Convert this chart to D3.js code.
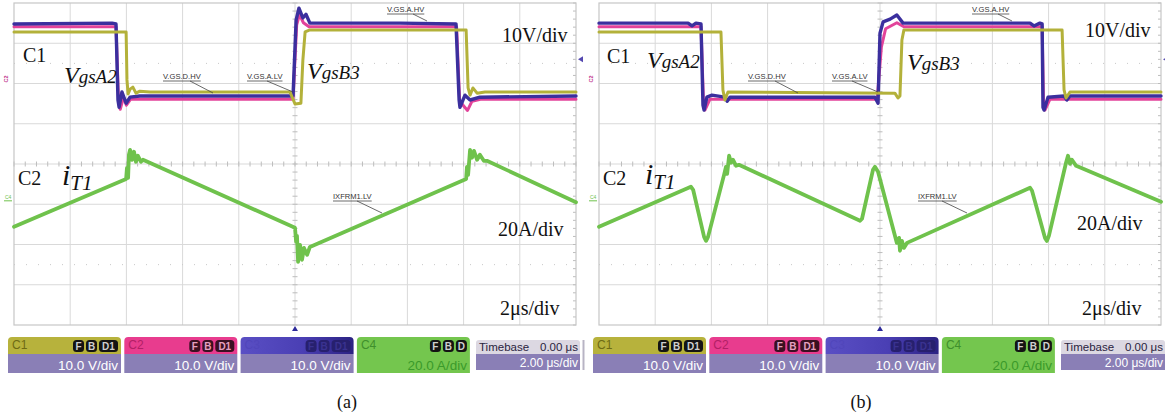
<!DOCTYPE html>
<html>
<head>
<meta charset="utf-8">
<script src="https://cdn.jsdelivr.net/npm/d3@7"></script>
<style>
  body { margin: 0; background: #fff; }
  svg { display: block; }
</style>
</head>
<body>
<svg id="chart" width="1165" height="419"></svg>
<script>
// ---- acquisition settings ----
const timeDomain = [-10, 10];          // µs, 2 µs/div over 10 divisions
const voltsPerDiv = 10;                // C1..C3
const ampsPerDiv = 20;                 // C4
const gateOffsetDiv = 2.11;            // ground marker of the gate channels (divisions above centre)
const currentOffsetDiv = -0.89;        // ground marker of the current channel

// ---- panel (a): gate voltages [t µs, V] ----
const aC1 = [[-10,11.7],[-6.05,11.7],[-6.01,11.7],[-5.98,-0.2],[-5.94,-3.7],[-5.87,-2.5],[-5.77,-2.0],[-5.66,-3.5],[-5.52,-3.0],[-5.16,-3.2],[-0.18,-3.2],[0,-6.2],[0.21,-6.0],[0.28,4.7],[0.36,11.7],[0.53,12.2],[6.09,12.2],[6.16,-2.2],[6.23,-4.0],[6.33,-2.2],[6.48,-3.5],[6.76,-3.2],[10,-3.2]];
const aC2 = [[-10,13.0],[-6.37,13.0],[-6.28,-5.5],[-6.22,-7.5],[-6.1,-4.5],[-6.0,-6.5],[-5.85,-5.0],[-0.07,-5.0],[0.06,13.5],[0.16,16.0],[0.3,14.0],[0.5,13.0],[5.75,13.0],[5.86,-5.5],[6.14,-7.8],[6.3,-5.5],[6.6,-5.0],[10,-5.0]];
const aC3 = [[-10,13.7],[-6.51,13.9],[-6.37,13.7],[-6.30,-5.2],[-6.26,-7.0],[-6.16,-3.2],[-6.01,-6.0],[-5.87,-4.5],[-5.52,-4.2],[-3.38,-4.2],[-0.07,-4.2],[0.04,14.7],[0.14,17.6],[0.28,15.2],[0.39,16.1],[0.53,13.9],[3.74,13.9],[5.73,13.7],[5.84,-5.2],[5.87,-7.0],[6.05,-4.0],[6.23,-5.2],[6.58,-4.5],[10,-4.2]];
// ---- panel (a): transformer current [t µs, A] ----
const aC4 = [[-10,-13.4],[-6.01,10.4],[-5.98,15.9],[-5.94,10.9],[-5.91,22.4],[-5.87,24.8],[-5.8,19.9],[-5.73,23.9],[-5.66,18.9],[-5.59,21.9],[-5.48,18.9],[-5.41,19.9],[0,-13.9],[0.04,-20.9],[0.07,-17.9],[0.11,-30.8],[0.18,-22.4],[0.25,-29.8],[0.32,-23.9],[0.43,-27.3],[0.53,-23.4],[6.09,10.4],[6.12,16.4],[6.16,12.4],[6.23,24.8],[6.3,20.9],[6.37,24.3],[6.48,19.9],[6.58,22.4],[6.72,19.4],[6.83,19.4],[10,-1.2]];

// ---- panel (b): gate voltages [t µs, V] ----
const bC1 = [[-10,11.7],[-5.66,11.7],[-5.59,-2.7],[-5.52,-5.2],[-5.41,-3.2],[0.53,-3.5],[0.64,-4.7],[0.71,-4.2],[0.78,9.7],[0.85,12.2],[6.48,12.2],[6.55,-2.7],[6.62,-4.7],[6.76,-3.2],[10,-3.2]];
const bC2 = [[-10,13.0],[-6.37,13.0],[-6.28,-6.0],[-6.23,-7.7],[-6.05,-5.0],[-0.1,-5.0],[0.05,8.0],[0.2,12.5],[0.6,14.0],[0.85,13.0],[5.77,13.0],[5.82,-6.0],[5.87,-7.7],[6.05,-5.0],[10,-5.0]];
const bC3 = [[-10,13.9],[-6.83,13.9],[-6.69,13.2],[-6.55,13.9],[-6.37,13.7],[-6.3,-6.5],[-6.26,-7.7],[-6.16,-4.5],[-5.98,-4.0],[-5.52,-4.5],[-5.44,-5.5],[-5.34,-4.5],[-0.18,-4.5],[-0.07,-6.0],[0,11.4],[0.11,14.2],[0.36,14.9],[0.6,15.9],[0.82,13.9],[5.34,13.9],[5.48,13.2],[5.69,13.9],[5.77,13.7],[5.8,-7.0],[5.84,-7.7],[5.98,-4.5],[6.55,-4.2],[6.65,-5.2],[6.76,-4.2],[10,-4.2]];
// ---- panel (b): transformer current [t µs, A] ----
const bC4 = [[-10,-13.4],[-6.73,6.5],[-6.65,5.0],[-6.26,-18.4],[-6.19,-20.4],[-6.12,-18.4],[-5.55,12.4],[-5.48,16.4],[-5.44,12.9],[-5.37,21.9],[-5.3,18.4],[-5.23,19.9],[-5.12,16.9],[-5.02,17.4],[-0.71,-10.4],[-0.64,-9.4],[-0.25,14.9],[-0.18,16.4],[-0.07,13.9],[0.6,-21.4],[0.68,-18.9],[0.71,-25.3],[0.78,-20.4],[0.85,-23.9],[0.96,-21.4],[5.34,6.0],[5.41,4.5],[5.87,-18.9],[5.94,-20.4],[6.01,-17.9],[6.62,18.4],[6.69,21.9],[6.76,17.9],[6.83,19.9],[6.98,16.9],[10,-1.0]];

// ---- text ----
const captions = ["(a)", "(b)"];
const scaleNotes = ["10V/div", "20A/div", "2μs/div"];
const traceTags = ["V.GS.D.HV", "V.GS.A.LV", "V.GS.A.HV", "IXFRM1.LV"];
const statusChannels = ["C1", "C2", "C3", "C4"];
const statusScales = ["10.0 V/div", "10.0 V/div", "10.0 V/div", "20.0 A/div"];
const statusBadges = [["F","B","D1"], ["F","B","D1"], ["F","B","D1"], ["F","B","D"]];
const timebaseText = ["Timebase", "0.00 μs", "2.00 μs/div"];

// ---- styling ----
const traceColor = { c1: "#b3b13a", c2: "#e2439a", c3: "#3b2f9e", c4: "#6fc24c" };
const serif = "'Liberation Serif', 'Times New Roman', serif";
const sans = "'Liberation Sans', Arial, sans-serif";

const svg = d3.select("#chart");
const defs = svg.append("defs");
const g3 = defs.append("linearGradient").attr("id", "c3grad");
g3.append("stop").attr("offset", "0%").attr("stop-color", "#5a4fc4");
g3.append("stop").attr("offset", "55%").attr("stop-color", "#4a3fb4");
g3.append("stop").attr("offset", "100%").attr("stop-color", "#2b2282");

const plotW = 562, plotTop = 3, plotBottom = 325;

const panels = [
  { x0: 14, caption: captions[0], capX: 347, c1: aC1, c2: aC2, c3: aC3, c4: aC4,
    txt: { c1: [9, 62], vA: [50, 83], vB: [293, 79], v10: [488, 42], c2: [4, 185], iT: [48, 185], a20: [484, 236], us2: [486, 315] } },
  { x0: 599, caption: captions[1], capX: 861, c1: bC1, c2: bC2, c3: bC3, c4: bC4,
    txt: { c1: [8, 63], vA: [48, 68], vB: [308, 70], v10: [486, 37], c2: [4, 185], iT: [46, 184], a20: [478, 230], us2: [483, 315] } }
];

panels.forEach(p => {
  const g = svg.append("g");
  const x = d3.scaleLinear(timeDomain, [p.x0, p.x0 + plotW]);
  const yDiv = d3.scaleLinear([-4, 4], [plotBottom, plotTop]);
  const yV = d3.scaleLinear([(-4 - gateOffsetDiv) * voltsPerDiv, (4 - gateOffsetDiv) * voltsPerDiv], [plotBottom, plotTop]);
  const yI = d3.scaleLinear([(-4 - currentOffsetDiv) * ampsPerDiv, (4 - currentOffsetDiv) * ampsPerDiv], [plotBottom, plotTop]);

  // graticule
  const grid = g.append("g");
  d3.range(-8, 10, 2).forEach(t => {
    grid.append("line").attr("x1", x(t)).attr("x2", x(t)).attr("y1", plotTop).attr("y2", plotBottom)
      .attr("stroke", "#d9d9d9").attr("stroke-width", 1);
  });
  d3.range(-3, 4).forEach(d => {
    grid.append("line").attr("x1", x(-10)).attr("x2", x(10)).attr("y1", yDiv(d)).attr("y2", yDiv(d))
      .attr("stroke", "#d9d9d9").attr("stroke-width", 1);
  });
  [-2.5, 2.5].forEach(d => {
    grid.append("line").attr("x1", x(-10)).attr("x2", x(10)).attr("y1", yDiv(d)).attr("y2", yDiv(d))
      .attr("stroke", "#c8c8c8").attr("stroke-width", 1).attr("stroke-dasharray", "1,11");
  });
  // minor ticks along the centre axes and the right edge
  d3.range(-4, 4.001, 0.2).forEach(d => {
    grid.append("line").attr("x1", x(0) - 2.5).attr("x2", x(0) + 2.5).attr("y1", yDiv(d)).attr("y2", yDiv(d))
      .attr("stroke", "#bdbdbd");
    grid.append("line").attr("x1", x(10) - 3).attr("x2", x(10)).attr("y1", yDiv(d)).attr("y2", yDiv(d))
      .attr("stroke", "#bdbdbd");
  });
  d3.range(-10, 10.001, 0.4).forEach(t => {
    grid.append("line").attr("x1", x(t)).attr("x2", x(t)).attr("y1", yDiv(0) - 2.5).attr("y2", yDiv(0) + 2.5)
      .attr("stroke", "#bdbdbd");
  });
  grid.append("rect").attr("x", x(-10)).attr("y", plotTop).attr("width", plotW).attr("height", plotBottom - plotTop)
    .attr("fill", "none").attr("stroke", "#c6c6c6").attr("stroke-width", 1.2);

  // traces
  const lineV = d3.line().x(d => x(d[0])).y(d => yV(d[1])).curve(d3.curveLinear);
  const lineI = d3.line().x(d => x(d[0])).y(d => yI(d[1])).curve(d3.curveLinear);
  const traces = g.append("g").attr("fill", "none").attr("stroke-linejoin", "round").attr("stroke-linecap", "round");
  traces.append("path").attr("d", lineI(p.c4)).attr("stroke", traceColor.c4).attr("stroke-width", 3.8);
  traces.append("path").attr("d", lineV(p.c2)).attr("stroke", traceColor.c2).attr("stroke-width", 3);
  traces.append("path").attr("d", lineV(p.c3)).attr("stroke", traceColor.c3).attr("stroke-width", 3.4);
  traces.append("path").attr("d", lineV(p.c1)).attr("stroke", traceColor.c1).attr("stroke-width", 3);

  // trace tags with leader lines
  const tagPos = [
    { tx: 149, ty: 79, from: [176, 81], to: [199, 93] },
    { tx: 233, ty: 79, from: [253, 81], to: [279, 92] },
    { tx: 373, ty: 12, from: [399, 14], to: [413, 21] },
    { tx: 319, ty: 199, from: [343, 201], to: [368, 213] }
  ];
  traceTags.forEach((t, i) => {
    const tp = tagPos[i];
    const txt = g.append("text").attr("x", p.x0 + tp.tx).attr("y", tp.ty)
      .attr("font-family", sans).attr("font-size", 7.6).attr("fill", "#333").text(t);
    const w = txt.node().getComputedTextLength();
    g.append("line").attr("x1", p.x0 + tp.tx).attr("x2", p.x0 + tp.tx + w).attr("y1", tp.ty + 2).attr("y2", tp.ty + 2)
      .attr("stroke", "#444").attr("stroke-width", 0.8);
    g.append("line").attr("x1", p.x0 + tp.from[0]).attr("y1", tp.from[1]).attr("x2", p.x0 + tp.to[0]).attr("y2", tp.to[1])
      .attr("stroke", "#444").attr("stroke-width", 0.8);
  });

  // edge markers
  g.append("text").attr("transform", `translate(${p.x0 - 6},${yV(0)}) rotate(-90)`)
    .attr("text-anchor", "middle").attr("font-family", sans).attr("font-size", 5.5).attr("font-weight", "bold")
    .attr("fill", "#c23c92").text("C2");
  g.append("text").attr("x", p.x0 - 9).attr("y", yI(0) - 1).attr("font-family", sans).attr("font-size", 5)
    .attr("fill", traceColor.c4).text("C4");
  g.append("line").attr("x1", p.x0 - 10).attr("x2", p.x0 - 2).attr("y1", yI(0) + 1).attr("y2", yI(0) + 1)
    .attr("stroke", traceColor.c4).attr("stroke-width", 1);
  g.append("path").attr("d", `M${p.x0 + plotW + 2},${yDiv(2.6)} l5,-3 l0,6 z`).attr("fill", "#5448b0");
  g.append("path").attr("d", `M${x(0)},${plotBottom + 1} l-3,5 l6,0 z`).attr("fill", "#2e2a9a");

  // annotations
  const t = p.txt;
  const addText = (pos, str, size, italic) => g.append("text").attr("x", p.x0 + pos[0]).attr("y", pos[1])
    .attr("font-family", serif).attr("font-size", size).attr("font-style", italic ? "italic" : "normal")
    .attr("fill", "#111").text(str);
  addText(t.c1, "C1", 20);
  addText(t.c2, "C2", 20);
  addText(t.v10, scaleNotes[0], 20);
  addText(t.a20, scaleNotes[1], 20);
  addText(t.us2, scaleNotes[2], 20);
  const vLabel = (pos, sub) => {
    const tx = g.append("text").attr("x", p.x0 + pos[0]).attr("y", pos[1]).attr("font-family", serif)
      .attr("font-style", "italic").attr("fill", "#111");
    tx.append("tspan").attr("font-size", 24).text("V");
    tx.append("tspan").attr("font-size", 19).text(sub);
  };
  vLabel(t.vA, "gsA2");
  vLabel(t.vB, "gsB3");
  const iLabel = g.append("text").attr("x", p.x0 + t.iT[0]).attr("y", t.iT[1]).attr("font-family", serif)
    .attr("font-style", "italic").attr("fill", "#111");
  iLabel.append("tspan").attr("font-size", 30).text("i");
  iLabel.append("tspan").attr("font-size", 21).attr("dy", 5).text("T1");

  // status bar
  const boxY = 337, boxMid = 354, boxB = 373;
  statusChannels.forEach((ch, i) => {
    const bx = p.x0 - 6 + i * 116.3, bw = 113;
    const bg = g.append("g");
    const topFill = i === 0 ? "#b7b23c" : i === 1 ? "#e83c8e" : i === 2 ? "url(#c3grad)" : "#74c64e";
    const lowFill = i === 3 ? "#74c64e" : "#8a7fb6";
    bg.append("path").attr("d", `M${bx},${boxMid} V${boxY + 4} Q${bx},${boxY} ${bx + 4},${boxY} H${bx + bw - 4} Q${bx + bw},${boxY} ${bx + bw},${boxY + 4} V${boxMid} Z`)
      .attr("fill", topFill);
    bg.append("rect").attr("x", bx).attr("y", boxMid).attr("width", bw).attr("height", boxB - boxMid).attr("fill", lowFill);
    const chCol = i === 0 ? "#6e6a14" : i === 1 ? "#b21f66" : i === 2 ? "#5146bb" : "#3f8f2c";
    bg.append("text").attr("x", bx + 4).attr("y", boxY + 12).attr("font-family", sans).attr("font-size", 12)
      .attr("fill", chCol).text(ch);
    // badges, right aligned in the top bar
    const badges = statusBadges[i];
    const widths = badges.map(b => b.length > 1 ? 19 : 11);
    let bxp = bx + bw - 3 - d3.sum(widths) - 2 * (badges.length - 1);
    const badgeFill = i === 2 ? "#27206e" : i === 1 ? "#3a1022" : "#141414";
    const badgeText = i === 2 ? "#3a3290" : i === 1 ? "#e4a0c0" : "#cfcfcf";
    badges.forEach((b, k) => {
      bg.append("rect").attr("x", bxp).attr("y", boxY + 3).attr("width", widths[k]).attr("height", 12).attr("rx", 3.5)
        .attr("fill", badgeFill);
      bg.append("text").attr("x", bxp + widths[k] / 2).attr("y", boxY + 13).attr("text-anchor", "middle")
        .attr("font-family", sans).attr("font-weight", "bold").attr("font-size", 10).attr("fill", badgeText).text(b);
      bxp += widths[k] + 2;
    });
    bg.append("text").attr("x", bx + bw - 3).attr("y", boxB - 3).attr("text-anchor", "end")
      .attr("font-family", sans).attr("font-size", 13.5).attr("fill", i === 3 ? "#3a9a2a" : "#ffffff")
      .text(statusScales[i]);
  });
  // timebase box
  const tbx = p.x0 + 462, tbw = 104;
  g.append("path").attr("d", `M${tbx},${boxMid} V${boxY + 6} Q${tbx},${boxY + 3} ${tbx + 3},${boxY + 3} H${tbx + tbw - 3} Q${tbx + tbw},${boxY + 3} ${tbx + tbw},${boxY + 6} V${boxMid} Z`)
    .attr("fill", "#dcd8e2");
  g.append("rect").attr("x", tbx).attr("y", boxMid).attr("width", tbw).attr("height", 16).attr("fill", "#8a7fb6");
  g.append("text").attr("x", tbx + 3).attr("y", boxY + 14).attr("font-family", sans).attr("font-size", 11.5)
    .attr("fill", "#2a2440").text(timebaseText[0]);
  g.append("text").attr("x", tbx + tbw - 2).attr("y", boxY + 14).attr("text-anchor", "end").attr("font-family", sans)
    .attr("font-size", 11.5).attr("fill", "#2a2440").text(timebaseText[1]);
  g.append("text").attr("x", tbx + tbw - 2).attr("y", boxMid + 13).attr("text-anchor", "end").attr("font-family", sans)
    .attr("font-size", 12).attr("fill", "#ffffff").text(timebaseText[2]);
  g.append("line").attr("x1", tbx + tbw + 3.5).attr("x2", tbx + tbw + 3.5).attr("y1", boxY + 3).attr("y2", boxB - 3)
    .attr("stroke", "#b8b4c4").attr("stroke-width", 2);

  // caption
  svg.append("text").attr("x", p.capX).attr("y", 408).attr("text-anchor", "middle")
    .attr("font-family", serif).attr("font-size", 18).attr("fill", "#111").text(p.caption);
});
</script>
</body>
</html>
